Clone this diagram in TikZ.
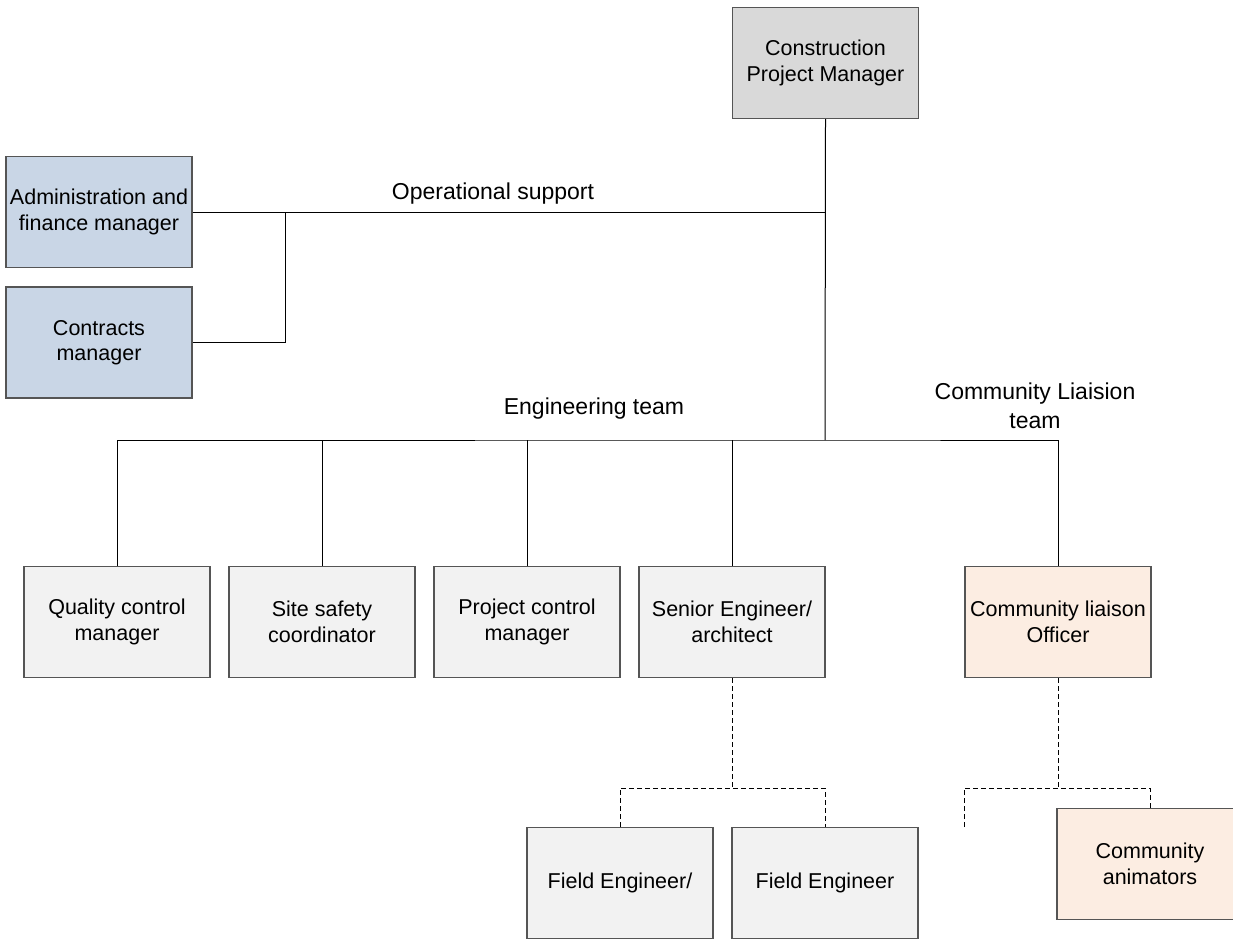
\documentclass[tikz,border=0pt]{standalone}
\usepackage{fontspec}
\setmainfont{Liberation Sans}
\definecolor{cpmfill}{HTML}{D9D9D9}
\definecolor{bluefill}{HTML}{C9D6E6}
\definecolor{grayfill}{HTML}{F2F2F2}
\definecolor{peachfill}{HTML}{FCEDE2}
\definecolor{boxline}{HTML}{555555}
\begin{document}
\begin{tikzpicture}[x=1pt,y=-1pt,
  box/.style={draw=boxline, line width=1.2pt, minimum width=186pt, minimum height=111pt,
    inner sep=0pt, align=center, font=\fontsize{21.5}{25.5}\selectfont, text=black},
  conn/.style={line width=1pt, black},
  dconn/.style={conn, dash pattern=on 5pt off 3pt},
  lbl/.style={font=\fontsize{23}{29}\selectfont, align=center, inner sep=0pt}]
\useasboundingbox (0,0) rectangle (1233,940);
\clip (0,0) rectangle (1233,940);
% boxes
\node[box, fill=cpmfill] (cpm) at (825.5,63) {Construction\\Project Manager};
\node[box, fill=bluefill] (admin) at (99,212) {Administration and\\finance manager};
\node[box, fill=bluefill] (contracts) at (99,342.5) {Contracts\\manager};
\node[box, fill=grayfill] (qc) at (117,622) {Quality control\\manager};
\node[box, fill=grayfill] (ss) at (322,622) {Site safety\\coordinator};
\node[box, fill=grayfill] (pc) at (527,622) {Project control\\manager};
\node[box, fill=grayfill] (se) at (732,622) {Senior Engineer/\\architect};
\node[box, fill=peachfill] (clo) at (1058,622) {Community liaison\\Officer};
\node[box, fill=grayfill] (fe1) at (620,883) {Field Engineer/};
\node[box, fill=grayfill] (fe2) at (825,883) {Field Engineer};
\node[box, fill=peachfill] (ca) at (1150,864) {Community\\animators};
% labels
\node[lbl] (op) at (493,194) {Operational support};
\node[lbl] (eng) at (594,409) {Engineering team};
\node[lbl] (comm) at (1035,406) {Community Liaision\\team};
% junctions
\coordinate (opj) at (285,212);
\coordinate (mainv) at (825,212);
\coordinate (engj) at (825,440);
\coordinate (sej) at (732,788);
\coordinate (cloj) at (1058,788);
\coordinate (cloL) at (964,827);
% solid connectors
\draw[conn] (cpm.south) -- (engj);
\draw[conn] (admin.east) -- (opj) |- (contracts.east);
\draw[conn] (opj) -- (mainv);
\draw[conn] (qc.north) |- (engj) -| (clo.north);
\draw[conn] (ss.north) -- (ss.north |- engj);
\draw[conn] (pc.north) -- (pc.north |- engj);
\draw[conn] (se.north) -- (se.north |- engj);
% dashed connectors
\draw[dconn] (se.south) -- (sej);
\draw[dconn] (fe1.north) |- (sej) -| (fe2.north);
\draw[dconn] (clo.south) -- (cloj);
\draw[dconn] (cloL) |- (cloj) -| (ca.north);
\end{tikzpicture}
\end{document}
